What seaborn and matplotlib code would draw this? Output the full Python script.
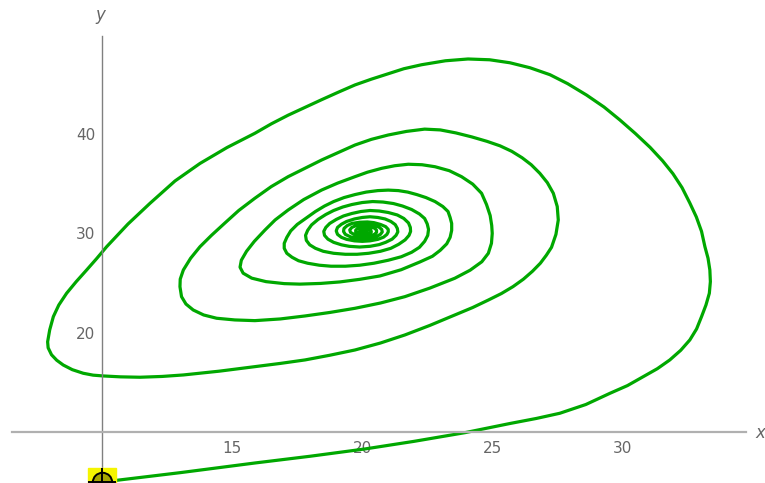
import numpy as np
import pandas as pd
import matplotlib
matplotlib.use("Agg")
import matplotlib.pyplot as plt
import seaborn as sns
from matplotlib.ticker import MultipleLocator

# trajectory, traced in order
# 1) from the start point up the right side, over the top, round the left
outer_x = [10.0, 10.68, 13.0, 15.87, 18.0, 20.10, 22.0, 23.95, 25.68, 26.7,
           27.60, 28.6, 29.53, 30.2, 30.81, 31.35, 31.83, 32.25, 32.60, 32.86,
           33.05, 33.22, 33.35, 33.39, 33.37, 33.30, 33.18, 33.05, 32.85, 32.60,
           32.30, 31.95, 31.55, 31.07, 30.50, 29.91, 29.30, 28.63, 27.90, 27.22,
           26.45, 25.68, 24.90, 24.07, 23.20, 22.28, 21.60, 21.00, 20.35, 19.72,
           19.07, 18.44, 17.80, 17.15, 16.51, 15.87, 14.80, 13.76, 12.80, 11.84,
           10.99, 10.17, 9.78, 9.40, 9.00, 8.63, 8.33, 8.12, 7.98, 7.90,
           7.92, 8.05, 8.25, 8.50, 8.85, 9.27, 9.65, 10.04, 10.70, 11.45,
           12.30, 13.12, 14.50, 15.87, 16.85, 17.80, 18.75, 19.72, 20.70, 21.64,
           22.60, 23.56, 24.25, 24.85, 25.35, 25.80, 26.20, 26.55, 26.85, 27.08,
           27.28, 27.45, 27.54]
outer_y = [5.00, 5.22, 5.95, 6.92, 7.60, 8.33, 9.10, 9.97, 10.89, 11.40,
           11.92, 12.80, 13.93, 14.70, 15.60, 16.40, 17.28, 18.25, 19.29, 20.40,
           21.63, 22.80, 23.98, 25.15, 26.32, 27.50, 28.66, 30.20, 31.65, 33.05,
           34.60, 36.00, 37.30, 38.65, 40.05, 41.40, 42.70, 43.90, 45.05, 45.95,
           46.65, 47.15, 47.45, 47.53, 47.35, 46.95, 46.55, 46.05, 45.50, 44.92,
           44.18, 43.44, 42.67, 41.88, 41.02, 40.06, 38.63, 37.03, 35.27, 33.03,
           30.94, 28.66, 27.45, 26.32, 25.15, 23.98, 22.80, 21.63, 20.30, 19.10,
           18.50, 17.80, 17.25, 16.77, 16.30, 15.94, 15.75, 15.67, 15.58, 15.54,
           15.62, 15.77, 16.15, 16.60, 16.93, 17.28, 17.75, 18.28, 18.98, 19.79,
           20.75, 21.80, 22.55, 23.30, 23.95, 24.65, 25.40, 26.20, 27.00, 27.80,
           28.60, 29.90, 31.35]

# 2) second loop
loop2_x = [27.50, 27.35, 27.12, 26.83, 26.50, 26.15, 25.75, 25.30, 24.80, 24.21,
           23.60, 23.00, 22.40, 21.70, 21.00, 20.35, 19.72, 19.10, 18.44, 17.80,
           17.15, 16.50, 15.87, 15.25, 14.70, 14.20, 13.76, 13.40, 13.12, 13.00,
           12.99, 13.05, 13.22, 13.50, 13.90, 14.40, 15.10, 15.87, 16.85, 17.80,
           18.75, 19.72, 20.70, 21.64, 22.60, 23.56, 24.15, 24.60]
loop2_y = [32.70, 34.03, 35.10, 36.04, 36.90, 37.60, 38.25, 38.80, 39.25, 39.70,
           40.10, 40.40, 40.48, 40.25, 39.89, 39.45, 38.88, 38.15, 37.38, 36.55,
           35.70, 34.70, 33.53, 32.30, 31.00, 29.80, 28.66, 27.50, 26.32, 25.40,
           24.64, 23.64, 22.90, 22.30, 21.80, 21.47, 21.30, 21.23, 21.40, 21.70,
           22.05, 22.47, 23.00, 23.64, 24.50, 25.49, 26.30, 27.15]

# 3) third and fourth loops
loop3_x = [24.85, 24.97, 25.00, 24.98, 24.92, 24.78, 24.59, 24.25, 23.82, 23.35,
           22.80, 22.30, 21.77, 21.25, 20.75, 20.20, 19.72, 19.05, 18.44, 17.75,
           17.15, 16.65, 16.26, 15.85, 15.55, 15.35, 15.30, 15.42, 15.75, 16.30,
           17.00, 17.60, 18.40, 19.14, 19.90, 20.68, 21.50, 22.22, 22.70, 23.00,
           23.25, 23.38, 23.44, 23.44, 23.38, 23.30, 23.10, 22.80, 22.45, 22.10,
           21.75, 21.39, 21.00, 20.60, 20.15, 19.72, 19.30, 18.90, 18.55, 18.20,
           17.85, 17.50, 17.25, 17.10, 17.00, 17.00, 17.10, 17.30, 17.55, 17.90,
           18.35, 18.80, 19.35, 19.90, 20.45, 21.00, 21.50, 21.90, 22.20, 22.40,
           22.52, 22.55]
loop3_y = [28.00, 29.00, 30.00, 30.80, 31.80, 32.90, 34.03, 34.95, 35.70, 36.30,
           36.70, 36.90, 36.95, 36.80, 36.54, 36.15, 35.70, 35.05, 34.36, 33.40,
           32.35, 31.35, 30.34, 29.20, 28.20, 27.30, 26.60, 26.00, 25.50, 25.15,
           24.95, 24.90, 24.97, 25.12, 25.38, 25.72, 26.35, 27.13, 27.70, 28.30,
           28.95, 29.60, 30.30, 31.00, 31.60, 32.20, 32.70, 33.20, 33.60, 33.90,
           34.15, 34.30, 34.35, 34.30, 34.15, 33.90, 33.60, 33.20, 32.75, 32.20,
           31.55, 30.90, 30.25, 29.60, 29.00, 28.50, 28.00, 27.60, 27.25, 27.00,
           26.80, 26.70, 26.70, 26.80, 27.00, 27.30, 27.65, 28.10, 28.60, 29.20,
           29.80, 30.40]

# 4) the small loops winding into the centre
core_x = [22.5, 22.4, 22.2, 21.9, 21.55, 21.2, 20.8, 20.4, 20.0, 19.6,
          19.25, 18.9, 18.6, 18.3, 18.05, 17.9, 17.82, 17.85, 17.98, 18.2,
          18.5, 18.9, 19.35, 19.8, 20.25, 20.7, 21.1, 21.4, 21.65, 21.8,
          21.86, 21.85, 21.78, 21.6, 21.35, 21.0, 20.65, 20.3, 19.95, 19.6,
          19.28, 19.0, 18.75, 18.6, 18.52, 18.55, 18.68, 18.9, 19.2, 19.5,
          19.9, 20.3, 20.65, 20.9, 21.15, 21.3, 21.37, 21.35, 21.27, 21.1,
          20.88, 20.6, 20.3, 20.0, 19.7, 19.4, 19.2, 19.05, 19.0, 19.05,
          19.2, 19.4, 19.7, 20.0, 20.3, 20.6, 20.82, 20.95, 21.0, 21.0,
          20.9, 20.7, 20.45, 20.2, 19.9, 19.6, 19.42, 19.3, 19.28, 19.35,
          19.55, 19.8, 20.05, 20.3, 20.52, 20.7, 20.77, 20.75, 20.65, 20.5,
          20.25, 20.0, 19.78, 19.6, 19.52, 19.55, 19.7, 19.9, 20.1, 20.3,
          20.47, 20.55, 20.55, 20.48, 20.35, 20.2, 20.0, 19.82, 19.75, 19.75,
          19.85, 20.0, 20.15, 20.3, 20.35, 20.33, 20.22, 20.1, 19.95, 19.9,
          19.92, 20.02, 20.15, 20.2, 20.12, 20.03]
core_y = [30.95, 31.5, 31.95, 32.4, 32.75, 33.0, 33.15, 33.2, 33.1, 32.9,
          32.65, 32.3, 31.9, 31.4, 30.85, 30.3, 29.8, 29.3, 28.85, 28.5,
          28.2, 28.0, 27.9, 27.9, 28.0, 28.2, 28.5, 28.9, 29.35, 29.8,
          30.2, 30.6, 31.05, 31.5, 31.85, 32.1, 32.25, 32.3, 32.2, 32.0,
          31.75, 31.4, 31.0, 30.6, 30.2, 29.8, 29.42, 29.1, 28.85, 28.7,
          28.63, 28.7, 28.87, 29.1, 29.42, 29.8, 30.15, 30.5, 30.88, 31.2,
          31.45, 31.6, 31.67, 31.6, 31.45, 31.2, 30.92, 30.6, 30.25, 29.9,
          29.6, 29.4, 29.25, 29.2, 29.25, 29.4, 29.62, 29.9, 30.15, 30.4,
          30.68, 30.9, 31.08, 31.15, 31.12, 31.0, 30.78, 30.5, 30.2, 29.9,
          29.65, 29.5, 29.45, 29.5, 29.65, 29.9, 30.15, 30.4, 30.62, 30.8,
          30.9, 30.9, 30.8, 30.6, 30.35, 30.1, 29.88, 29.75, 29.72, 29.75,
          29.9, 30.1, 30.32, 30.52, 30.62, 30.6, 30.6, 30.5, 30.32, 30.15,
          30.0, 29.9, 29.9, 30.0, 30.15, 30.32, 30.45, 30.47, 30.4, 30.28,
          30.15, 30.08, 30.1, 30.2, 30.3, 30.24]

x_ticks = [15, 20, 25, 30]
y_ticks = [20, 30, 40]
x0, y0 = outer_x[0], outer_y[0]

df = pd.DataFrame({"x": outer_x + loop2_x + loop3_x + core_x,
                   "y": outer_y + loop2_y + loop3_y + core_y})

sns.set_style("white")
plt.rcParams['font.family'] = ['DejaVu Sans']

fig = plt.figure(figsize=(7.65, 4.83), dpi=100)
ax = fig.add_axes([12 / 765, 0, 734 / 765, 447 / 483])

sns.lineplot(data=df, x="x", y="y", sort=False, estimator=None,
             color="#00a800", linewidth=2.3, ax=ax)

# starting point locator
ax.plot([x0], [y0], marker="s", ms=20, color="#f5f500", zorder=5, clip_on=False)
ax.plot([x0], [y0], marker="o", ms=14, mfc="#a6a600", mec="black", mew=1.4, zorder=6)
ax.plot([x0], [y0], marker="+", ms=20, color="black", mew=1.4, zorder=7)

ax.set_xlim(6.53, 34.76)
ax.set_ylim(4.91, 49.84)

for side in ["top", "right"]:
    ax.spines[side].set_visible(False)
ax.spines["left"].set_position(("data", 10))
ax.spines["bottom"].set_position(("data", 10))
ax.spines["left"].set_color("#808080")
ax.spines["left"].set_linewidth(1.0)
ax.spines["bottom"].set_color("#b0b0b0")
ax.spines["bottom"].set_linewidth(1.6)

ax.set_xticks(x_ticks)
ax.set_yticks(y_ticks)
ax.xaxis.set_minor_locator(MultipleLocator(1))
ax.yaxis.set_minor_locator(MultipleLocator(2))
ax.tick_params(axis="both", which="major", direction="in", length=4, width=0.8,
               color="#808080", labelcolor="#666666", labelsize=11)
ax.tick_params(axis="both", which="minor", direction="in", length=2, width=0.6,
               color="#808080")
ax.tick_params(axis="x", which="major", pad=6)
ax.tick_params(axis="y", which="major", pad=5)
ax.set_xlabel("")
ax.set_ylabel("")
ax.grid(False)

fig.text(100 / 765, 1 - 15 / 483, "y", style="italic", color="#666666",
         fontsize=12, ha="center", va="center")
fig.text(755 / 765, 1 - 433 / 483, "x", style="italic", color="#666666",
         fontsize=12, ha="left", va="center")

fig.savefig("out.png", dpi=100)
